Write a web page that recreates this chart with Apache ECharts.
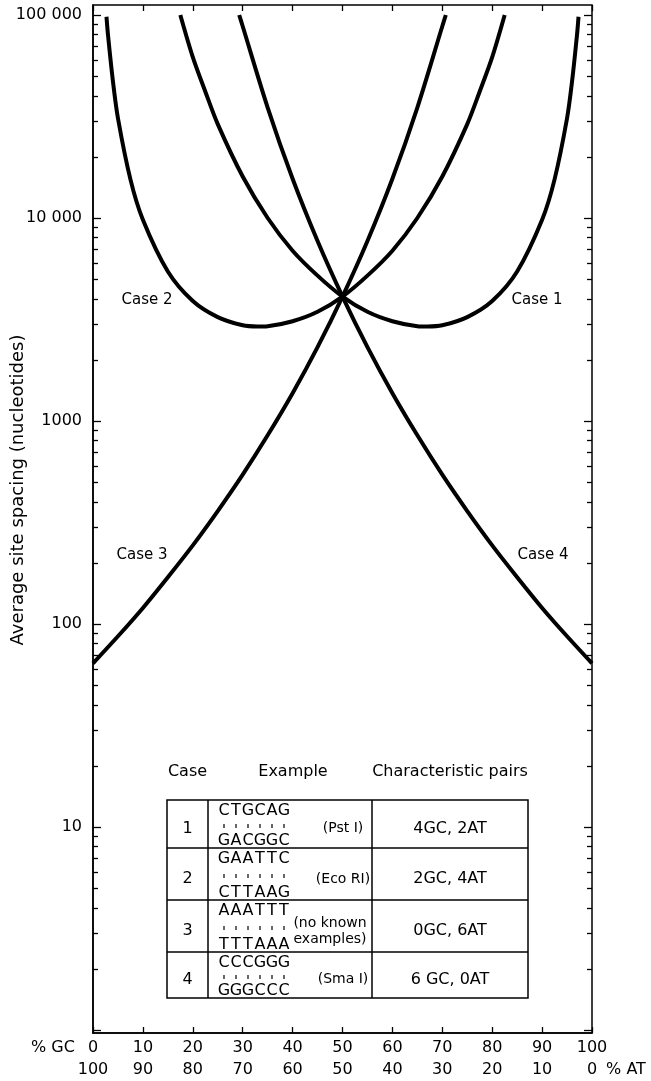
<!DOCTYPE html>
<html><head><meta charset="utf-8">
<script src="https://cdn.jsdelivr.net/npm/echarts@6/dist/echarts.min.js"></script>
<style>html,body{margin:0;padding:0;background:#fff}#c{width:651px;height:1081px}</style>
</head><body><div id="c"></div><script>
// ---- data ----
const gcTicks = [0,10,20,30,40,50,60,70,80,90,100];
const atTicks = [100,90,80,70,60,50,40,30,20,10,0];
const yLabelValues = [10,100,1000,10000,100000];
const yLabelTexts = ['10','100','1000','10 000','100 000'];

const case1GC = [17.5,20,22.5,25,30,35,40,45,50,55,60,65,67,70,75,80,85,90,92.5,95,96,97,97.3];
const case1Spacing = [100000,62000,42000,29000,16000,10000,6900,5200,4100,3450,3100,2930,2920,2960,3250,3900,5450,9800,15500,31000,47000,80000,98000];
const case2GC = [2.7,3,4,5,7.5,10,15,20,25,30,33,35,40,45,50,55,60,65,70,75,77.5,80,82.5];
const case2Spacing = [98000,80000,47000,31000,15500,9800,5450,3900,3250,2960,2920,2930,3100,3450,4100,5200,6900,10000,16000,29000,42000,62000,100000];
const case3GC = [0,5,10,15,20,25,30,35,40,45,50,55,60,65,70,70.7];
const case3Spacing = [64,87,120,170,244,360,544,850,1370,2310,4100,7700,15600,35000,88000,100000];
const case4GC = [29.3,30,35,40,45,50,55,60,65,70,75,80,85,90,95,100];
const case4Spacing = [100000,88000,35000,15600,7700,4100,2310,1370,850,544,360,244,170,120,87,64];

const caseLabels = ['Case 1','Case 2','Case 3','Case 4'];
const tableHeaders = ['Case','Example','Characteristic pairs'];
const tableCases = ['1','2','3','4'];
const tableTopStrands = ['CTGCAG','GAATTC','AAATTT','CCCGGG'];
const tableBottomStrands = ['GACGGC','CTTAAG','TTTAAA','GGGCCC'];
const tableEnzymes = ['(Pst I)','(Eco RI)','(no known\nexamples)','(Sma I)'];
const tablePairs = ['4GC, 2AT','2GC, 4AT','0GC, 6AT','6 GC, 0AT'];
const yAxisTitle = 'Average site spacing (nucleotides)';

// ---- chart ----
const FONT = 'DejaVu Sans';
const yMin = 0.9665, yMax = 112000;
const minorTicks = [];
[1,10,100,1000,10000].forEach(d => { for (let m = 2; m <= 9; m++) minorTicks.push(d*m); });
const majorTicks = [1,10,100,1000,10000,100000];

function pairs(xs, ys){ return xs.map((x,i)=>[x, ys[i]]); }
function lineSeries(name, xs, ys){
  return {name, type:'line', xAxisIndex:0, yAxisIndex:0, data:pairs(xs,ys), showSymbol:false, smooth:0.3,
    lineStyle:{color:'#000', width:4}, silent:true};
}
function yAx(pos, ticks, len, showLabel){
  return {type:'log', min:yMin, max:yMax, position:pos,
    axisLine:{show:showLabel, lineStyle:{color:'#000', width:1.5}},
    splitLine:{show:false},
    axisTick:{show:true, inside:true, length:len, customValues:ticks, lineStyle:{color:'#000', width:1.3}},
    axisLabel:{show:showLabel, customValues:yLabelValues, margin:11, color:'#000', fontFamily:FONT, fontSize:16,
      formatter: v => yLabelTexts[Math.round(Math.log10(v)) - 1] || ''}};
}

const chart = echarts.init(document.getElementById('c'), null, {renderer:'canvas'});

const graphics = [];
function txt(x, y, text, size, align, extra){
  graphics.push(Object.assign({type:'text', x, y, silent:true,
    style:{text, fill:'#000', font: size + 'px "' + FONT + '"', textAlign: align || 'center', textVerticalAlign:'middle', lineHeight: size + 2}}, extra||{}));
}
// axis title and end labels
txt(18, 490, yAxisTitle, 18, 'center', {rotation: Math.PI/2});
txt(53, 1048, '% GC', 16, 'center');
txt(626, 1070, '% AT', 16, 'center');
// curve labels
txt(147, 300, caseLabels[1], 15);
txt(537, 300, caseLabels[0], 15);
txt(142, 555, caseLabels[2], 15);
txt(543, 555, caseLabels[3], 15);

// table
const tL = 167, tR = 528, c1 = 208, c2 = 372;
const rowTops = [800, 848, 900, 952, 998];
graphics.push({type:'rect', shape:{x:tL, y:rowTops[0], width:tR-tL, height:rowTops[4]-rowTops[0]},
  style:{fill:'#fff', stroke:'#000', lineWidth:1.5}, silent:true});
[c1, c2].forEach(x => graphics.push({type:'line', shape:{x1:x, y1:rowTops[0], x2:x, y2:rowTops[4]}, style:{stroke:'#000', lineWidth:1.5}, silent:true}));
rowTops.slice(1,4).forEach(y => graphics.push({type:'line', shape:{x1:tL, y1:y, x2:tR, y2:y}, style:{stroke:'#000', lineWidth:1.5}, silent:true}));
txt((tL+c1)/2, 772, tableHeaders[0], 16);
txt(293, 772, tableHeaders[1], 16);
txt((c2+tR)/2, 772, tableHeaders[2], 16);
for (let i = 0; i < 4; i++){
  const t = rowTops[i], b = rowTops[i+1], h = b - t;
  const topY = t + 11, botY = b - 7, midY = (topY + botY) / 2;
  txt((tL+c1)/2, t + h*0.6, tableCases[i], 16);
  for (let k = 0; k < 6; k++){
    const cx = 224 + 12*k;
    txt(cx, topY, tableTopStrands[i][k], 16);
    txt(cx, botY, tableBottomStrands[i][k], 16);
    graphics.push({type:'line', shape:{x1:cx, y1:midY-2, x2:cx, y2:midY+2}, style:{stroke:'#000', lineWidth:1.2}, silent:true});
  }
  txt(i === 2 ? 330 : 343, t + h*0.6, tableEnzymes[i], 14);
  txt((c2+tR)/2, t + h*0.6, tablePairs[i], 16);
}

const option = {
  animation:false,
  backgroundColor:'#fff',
  grid:{left:93, right:59, top:5, bottom:48, show:true, borderColor:'#000', borderWidth:1.5, containLabel:false},
  xAxis:[
    {type:'value', min:0, max:100, interval:10, position:'bottom',
     axisLine:{show:true, lineStyle:{color:'#000', width:1.5}}, splitLine:{show:false},
     axisTick:{show:true, inside:true, length:6, lineStyle:{color:'#000', width:1.3}},
     axisLabel:{margin:4, color:'#000', fontFamily:FONT, fontSize:16, lineHeight:22,
       formatter: v => { const i = gcTicks.indexOf(Math.round(v)); return '{a|' + gcTicks[i] + '}\n{a|' + atTicks[i] + '}'; },
       rich:{a:{fontFamily:FONT, fontSize:16, lineHeight:22, color:'#000'}}}},
    {type:'value', min:0, max:100, interval:10, position:'top',
     axisLine:{show:false}, splitLine:{show:false}, axisLabel:{show:false},
     axisTick:{show:true, inside:true, length:6, lineStyle:{color:'#000', width:1.3}}}
  ],
  yAxis:[
    yAx('left', majorTicks, 8, true),
    yAx('left', minorTicks, 5, false),
    yAx('right', majorTicks, 8, false),
    yAx('right', minorTicks, 5, false)
  ],
  series:[
    lineSeries(caseLabels[0], case1GC, case1Spacing),
    lineSeries(caseLabels[1], case2GC, case2Spacing),
    lineSeries(caseLabels[2], case3GC, case3Spacing),
    lineSeries(caseLabels[3], case4GC, case4Spacing)
  ],
  graphic: graphics
};
chart.setOption(option);
</script></body></html>
